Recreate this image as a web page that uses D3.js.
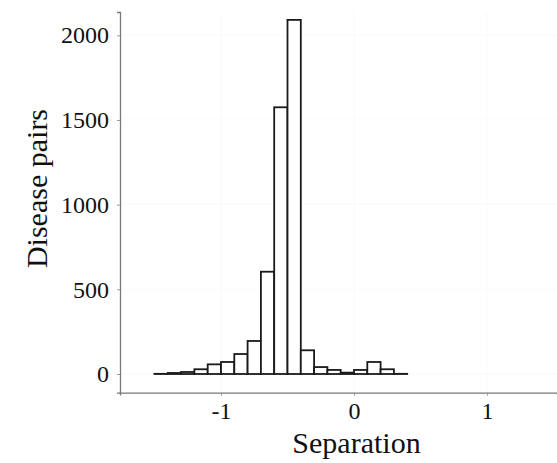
<!DOCTYPE html>
<html><head><meta charset="utf-8">
<script src="https://cdn.jsdelivr.net/npm/d3@7"></script>
<style>body{margin:0;background:#fff}svg{display:block}</style>
</head><body>
<svg id="c" width="557" height="463"></svg>
<script>
// bin lower edges (width 0.1) and counts
const binStarts = [-1.5,-1.4,-1.3,-1.2,-1.1,-1.0,-0.9,-0.8,-0.7,-0.6,-0.5,-0.4,-0.3,-0.2,-0.1,0.0,0.1,0.2,0.3];
const binWidth = 0.1;
const counts = [1,6,12,28,57,71,118,195,604,1575,2091,140,41,24,8,24,71,28,1];
const xTicks = [-1,0,1];
const yTicks = [0,500,1000,1500,2000];
const xTitle = "Separation";
const yTitle = "Disease pairs";

const svg = d3.select("#c");
const pLeft = 120, pBottom = 392.6, pTop = 12, pRight = 557;
const x = d3.scaleLinear().domain([0,1]).range([354,487]);
x.domain([x.invert(pLeft), x.invert(pRight)]).range([pLeft,pRight]);
const y = d3.scaleLinear().domain([0,2000]).range([374,35.3]);
y.domain([y.invert(pBottom), y.invert(pTop)]).range([pBottom,pTop]);

const font = "'Liberation Serif','Times New Roman',serif";

// faint grid
const g = svg.append("g");
g.selectAll("line.gx").data(xTicks).join("line")
  .attr("x1",d=>x(d)).attr("x2",d=>x(d)).attr("y1",pTop).attr("y2",pBottom)
  .attr("stroke","rgba(0,0,0,0.025)");
g.selectAll("line.gy").data(yTicks).join("line")
  .attr("y1",d=>y(d)).attr("y2",d=>y(d)).attr("x1",pLeft).attr("x2",pRight)
  .attr("stroke","rgba(0,0,0,0.025)");

// bars
svg.append("g").selectAll("rect").data(binStarts).join("rect")
  .attr("x",(d)=>x(d))
  .attr("width",(d)=>x(d+binWidth)-x(d))
  .attr("y",(d,i)=>y(counts[i]))
  .attr("height",(d,i)=>y(0)-y(counts[i]))
  .attr("fill","#fff").attr("stroke","#1a1a1a").attr("stroke-width",1.8);

// axes
const xAxis = d3.axisBottom(x).tickValues(xTicks).tickSize(3).tickPadding(6).tickFormat(d3.format("d"));
const yAxis = d3.axisLeft(y).tickValues(yTicks).tickSize(3).tickPadding(8).tickFormat(d3.format("d"));
const gx = svg.append("g").attr("transform",`translate(0,${pBottom})`).call(xAxis);
const gy = svg.append("g").attr("transform",`translate(${pLeft},0)`).call(yAxis);
[gx,gy].forEach(a=>{
  a.select(".domain").attr("stroke","#777").attr("stroke-width",1.3);
  a.selectAll(".tick line").attr("stroke","#999");
  a.selectAll(".tick text").attr("font-family",font).attr("font-size",24).attr("fill","#111");
});
gx.selectAll(".tick text").text(d=>d<0?"-"+Math.abs(d):d);

svg.append("text").attr("x",356.5).attr("y",453).attr("text-anchor","middle")
  .attr("font-family",font).attr("font-size",30).attr("fill","#111").text(xTitle);
svg.append("text").attr("transform","translate(46.5,188.5) rotate(-90)").attr("text-anchor","middle")
  .attr("font-family",font).attr("font-size",30).attr("fill","#111").text(yTitle);
</script>
</body></html>
